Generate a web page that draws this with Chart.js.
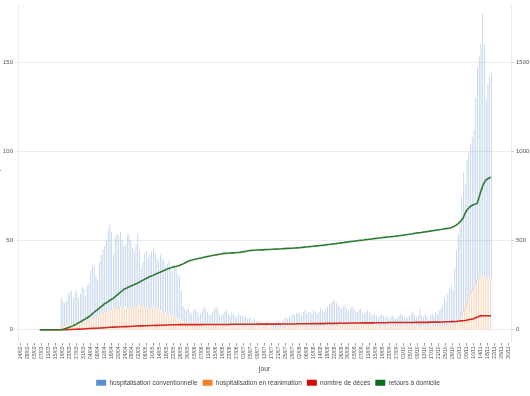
<!DOCTYPE html>
<html>
<head>
<meta charset="utf-8">
<script src="https://cdn.jsdelivr.net/npm/chart.js@4/dist/chart.umd.min.js"></script>
<style>
  body { margin: 0; overflow: hidden; background: #fff; width: 530px; height: 396px; position: relative; }
  #wrap { position: absolute; left: -12px; top: 0; width: 560px; height: 396px; }
</style>
</head>
<body>
<div id="wrap"><canvas id="chart" width="560" height="396"></canvas></div>
<script>
// first day on the axis, number of days shown
const firstDay = new Date(2020, 1, 23);
const nDays = 283;
const barStart = 24;   // 18/03 = first day with hospital data
const lineStart = 12;  // 06/03 = first day of the two lines

// daily values from 18/03 to 20/11
const hospConv = [
  16,14,13,13,17,18,19,15,17,18,14,16,20,18,14,20,21,27,30,28,23,20,30,33,36,37,40,45,48,44,
  30,40,42,41,42,37,34,35,41,42,38,34,31,35,40,31,21,25,31,32,28,30,31,32,31,28,27,31,30,29,
  26,28,30,26,25,29,28,25,24,17,8,8,
  7,8,6,6,8,9,7,5,6,8,10,9,7,6,5,7,9,10,8,6,6,7,8,9,7,6,8,7,6,5,7,6,
  6,5,6,4,5,4,3,4,3,3,2,3,2,2,3,2,2,
  2,3,2,3,4,3,4,5,5,4,6,5,
  7,6,7,8,7,6,8,9,7,8,8,7,9,8,7,8,10,9,8,10,11,12,13,14,15,13,
  11,10,9,10,11,9,8,9,10,9,8,7,8,9,7,6,7,8,7,6,5,6,
  6,5,6,7,6,5,6,4,5,6,5,4,5,6,7,6,5,4,5,6,7,8,6,5,6,
  10,6,5,7,6,4,6,7,6,8,7,9,10,12,16,14,17,20,22,19,
  32,41,49,56,67,78,70,81,82,84,86,88,104,119,124,130,147,131,101,108,113,116
];
const hospRea = [
  2,2,2,3,3,3,3,3,4,4,4,4,4,5,5,5,5,6,6,7,7,8,8,9,9,10,10,11,11,11,
  12,12,12,12,13,13,13,13,12,12,12,12,13,13,14,14,13,13,12,12,12,12,13,13,12,12,11,11,10,10,
  10,9,9,8,8,7,7,6,6,5,5,4,
  4,4,4,3,3,3,3,3,3,3,3,3,3,3,3,3,3,3,3,3,2,2,2,2,2,2,2,2,2,2,2,2,
  2,2,2,2,2,2,2,2,2,2,2,2,2,2,2,2,2,
  1,1,1,1,1,1,1,1,2,2,2,2,
  2,2,2,2,2,2,2,2,2,2,2,2,2,2,2,2,2,2,2,2,2,2,2,2,2,2,
  3,3,3,3,3,3,3,3,3,3,3,3,3,3,3,3,3,3,3,3,3,3,
  2,2,2,2,2,2,2,2,2,2,2,2,2,2,2,2,2,2,2,2,2,2,2,2,2,
  2,2,2,2,2,2,2,2,2,2,2,2,2,2,2,2,3,3,3,3,
  3,4,5,6,8,10,12,14,17,20,22,24,26,28,29,30,30,29,28,30,29,28
];

// cumulative values from 06/03 to 20/11 (right axis)
const deces = [
  0,0,0,0,0,0,0,0,0,0,0,0,
  0,0,1,1,1,2,2,2,3,3,4,4,5,5,6,6,7,7,8,8,9,9,10,10,11,12,12,13,14,
  14,15,15,16,16,17,17,18,18,18,19,19,20,20,21,21,22,22,22,23,23,23,24,24,24,25,25,25,26,26,26,27,27,27,28,28,
  28,28,28,29,29,29,29,29,29,29,29,29,29,29,29,29,29,30,30,30,30,30,30,30,30,30,30,30,30,30,
  30,30,30,31,31,31,31,31,31,31,31,31,31,31,31,31,31,31,32,32,32,32,32,32,32,32,32,32,32,32,
  32,32,33,33,33,33,
  33,33,33,33,33,34,34,34,34,34,34,34,34,35,35,35,35,35,35,35,35,36,36,36,36,36,36,36,37,37,
  37,37,37,37,37,38,38,38,38,38,38,38,39,39,39,39,39,39,39,40,40,40,40,40,40,40,40,41,41,41,
  41,41,41,41,41,
  41,41,41,41,41,41,41,42,42,42,42,42,42,42,42,42,43,43,43,43,43,43,44,44,44,45,45,45,46,46,
  47,47,48,49,50,51,52,54,56,58,60,62,66,70,74,78,79,79,79,79,79,79
];
const retours = [
  0,0,0,0,0,0,0,0,0,0,0,0,
  0,2,4,8,12,15,18,22,27,32,38,43,48,55,60,66,72,79,88,97,105,112,120,128,136,145,150,157,
  163,170,176,183,192,200,208,216,225,230,234,240,244,248,252,257,261,266,272,277,282,287,292,297,
  301,305,310,314,318,322,327,331,335,339,343,346,350,353,355,358,360,364,368,373,378,383,388,390,
  393,395,397,399,401,403,406,408,410,412,414,416,418,420,421,423,425,427,428,428,429,430,431,431,
  432,433,433,434,436,438,439,441,443,445,
  445,446,446,447,447,448,448,449,449,450,450,451,451,452,452,453,453,454,455,455,456,456,457,457,458,458,459,460,
  461,462,463,464,465,466,467,468,469,470,471,472,473,474,476,477,478,479,480,482,483,484,486,487,488,490,491,492,494,
  495,496,497,499,500,501,502,503,505,506,507,508,510,511,512,513,514,516,517,518,519,520,521,522,523,524,525,527,528,
  529,531,532,534,535,537,538,540,541,543,544,545,547,548,550,551,553,554,556,557,559,560,562,
  563,565,567,568,569,572,576,580,586,594,603,612,625,650,668,680,690,696,700,704,708,735,770,800,822,837,845,850,854
];

const yTicks = [0, 50, 100, 150];
const y2Ticks = [0, 500, 1000, 1500];
const legendColors = ['#5b8fd1', '#f4812a', '#d10a0a', '#0b6b1c'];

// dd/mm labels for every day on the axis
const days = [];
for (let i = 0; i < nDays; i++) {
  const d = new Date(firstDay);
  d.setDate(d.getDate() + i);
  days.push(String(d.getDate()).padStart(2, '0') + '/' + String(d.getMonth() + 1).padStart(2, '0'));
}

const pad = (arr, before) => Array(before).fill(null).concat(arr);
const font = { family: '"Liberation Sans", Arial, sans-serif', size: 6 };

new Chart(document.getElementById('chart'), {
  data: {
    labels: days,
    datasets: [
      { type: 'bar', label: 'hospitalisation conventionnelle', data: pad(hospConv, barStart),
        backgroundColor: 'rgba(105,150,212,0.5)', yAxisID: 'y', order: 3,
        barPercentage: 0.8, categoryPercentage: 1 },
      { type: 'bar', label: 'hospitalisation en réanimation', data: pad(hospRea, barStart),
        backgroundColor: 'rgba(248,140,60,0.45)', yAxisID: 'y', order: 2,
        barPercentage: 0.8, categoryPercentage: 1 },
      { type: 'line', label: 'nombre de décès', data: pad(deces, lineStart),
        borderColor: '#d42a1e', borderWidth: 1.6, pointRadius: 0, yAxisID: 'y2', order: 1 },
      { type: 'line', label: 'retours à domicile', data: pad(retours, lineStart),
        borderColor: '#2f7a34', borderWidth: 1.6, pointRadius: 0, yAxisID: 'y2', order: 0 }
    ]
  },
  options: {
    responsive: false,
    animation: false,
    layout: { padding: { top: -5, bottom: 0 } },
    plugins: {
      tooltip: { enabled: false },
      legend: {
        position: 'bottom',
        labels: {
          font: { ...font, size: 6.5 }, color: '#444',
          boxWidth: 10, boxHeight: 6, padding: 5,
          sort: (a, b) => a.datasetIndex - b.datasetIndex,
          generateLabels: chart => Chart.defaults.plugins.legend.labels.generateLabels(chart)
            .map(l => ({ ...l, fillStyle: legendColors[l.datasetIndex], strokeStyle: legendColors[l.datasetIndex], lineWidth: 0 }))
        }
      }
    },
    scales: {
      x: {
        offset: true,
        grid: { display: true, drawOnChartArea: false, offset: false, tickLength: 3, color: '#999' },
        border: { display: false },
        ticks: { autoSkip: false, maxRotation: 90, minRotation: 90, font: { ...font, size: 5 }, color: '#555', padding: 1 },
        afterBuildTicks: axis => { axis.ticks = axis.ticks.filter(t => (t.value - 1) % 4 === 0); },
        afterFit: axis => { axis.height = 32; },
        title: { display: true, text: 'jour', font: { ...font, size: 6.5 }, color: '#444', padding: 1 }
      },
      y: {
        stacked: true,
        min: -7.1, max: 181.6,
        afterBuildTicks: axis => { axis.ticks = yTicks.map(v => ({ value: v })); },
        afterFit: axis => { axis.width = 30; },
        grid: { color: '#ececec', tickLength: 3 },
        border: { color: '#ececec' },
        ticks: { font, color: '#555', padding: 2 },
        title: { display: true, text: "nombre d'hospitalisations", font: { ...font, size: 6.5 }, color: '#444', padding: { top: 5 } }
      },
      y2: {
        position: 'right',
        min: -71, max: 1816,
        afterBuildTicks: axis => { axis.ticks = y2Ticks.map(v => ({ value: v })); },
        afterFit: axis => { axis.width = 37; },
        grid: { drawOnChartArea: false, color: '#ccc', tickLength: 3 },
        border: { color: '#ececec' },
        ticks: { font, color: '#555', padding: 2, callback: v => String(v) },
        title: { display: true, text: 'nombre de décès / retours', font: { ...font, size: 6.5 }, color: '#444' }
      }
    }
  }
});
</script>
</body>
</html>
